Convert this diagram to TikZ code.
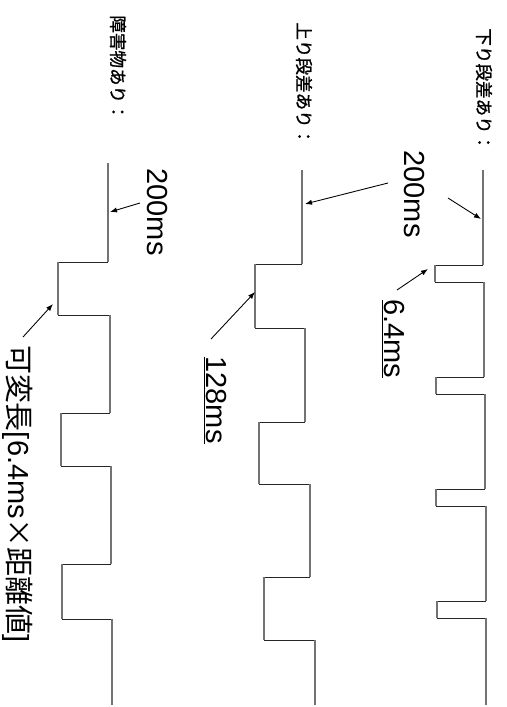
\documentclass[tikz,border=0pt]{standalone}
\usepackage{fontspec}
\setmainfont{Liberation Sans}
\newfontfamily\jpfont{Noto Sans CJK JP}
\newfontfamily\jpheavy[FakeBold=1.2]{Noto Sans CJK JP}
\usetikzlibrary{arrows.meta}

\begin{document}
\begin{tikzpicture}[x=0.02cm, y=-0.02cm,
    vseg/.style={draw=black!55, line width=1.1pt},
    hseg/.style={draw=black!85, line width=0.5pt},
    rowlabel/.style={rotate=-90, anchor=west, inner sep=0pt,
        font=\jpheavy\fontsize{10}{12}\selectfont},
    tag/.style={rotate=-90, inner sep=0pt, font=\fontsize{16.5}{18}\selectfont},
    ptr/.style={-{Latex[length=4pt, width=3pt]}, line width=0.5pt}
]
    \useasboundingbox (0,0) rectangle (507,707);

    % 下り段差あり
    \foreach \ya/\yb/\yc/\xh/\xl/\xn in {170/265/282/483/435/484, 282/377/394/484/436/485,
            394/489/506/485/436/486, 506/601/618/486/437/486} {
        \draw[vseg] (\xh,\ya) -- (\xh,\yb);
        \draw[hseg] (\xh,\yb) -- (\xl,\yb);
        \draw[vseg] (\xl,\yb) -- (\xl,\yc);
        \draw[hseg] (\xl,\yc) -- (\xn,\yc);
    }
    \draw[vseg] (486,618) -- (486,705);

    % 上り段差あり
    \foreach \ya/\yb/\yc/\xh/\xl/\xn in {170/264/328/302/255/305, 328/422/484/305/259/310,
            484/577/640/310/264/315} {
        \draw[vseg] (\xh,\ya) -- (\xh,\yb);
        \draw[hseg] (\xh,\yb) -- (\xl,\yb);
        \draw[vseg] (\xl,\yb) -- (\xl,\yc);
        \draw[hseg] (\xl,\yc) -- (\xn,\yc);
    }
    \draw[vseg] (315,640) -- (315,705);

    % 障害物あり
    \foreach \ya/\yb/\yc/\xh/\xl/\xn in {163/262/315/108/58/110, 315/413/466/110/61/111,
            466/564/619/111/62/112} {
        \draw[vseg] (\xh,\ya) -- (\xh,\yb);
        \draw[hseg] (\xh,\yb) -- (\xl,\yb);
        \draw[vseg] (\xl,\yb) -- (\xl,\yc);
        \draw[hseg] (\xl,\yc) -- (\xn,\yc);
    }
    \draw[vseg] (112,619) -- (112,705);

    \node[rowlabel] (rowA) at (484,28) {下り段差あり：};
    \node[rowlabel] (rowB) at (304,22) {上り段差あり：};
    \node[rowlabel] (rowC) at (118,15) {障害物あり：};

    \node[tag] (tA) at (414,194) {200ms};
    \node[tag] (tB) at (157,212) {200ms};
    \node[tag] (tP) at (393,339) {\underline{6.4ms}};
    \node[tag] (tQ) at (215,400) {\underline{128ms}};
    \node[tag] (tV) at (18,494) {{\jpfont 可変長}[6.4ms{\jpfont ×距離値}]};

    % arrow ends
    \coordinate (hiA) at (481,219);
    \coordinate (loA) at (428,269);
    \coordinate (hiB) at (305,204);
    \coordinate (loB) at (255,292);
    \coordinate (hiC) at (110,212);
    \coordinate (loC) at (53,304);
    \coordinate (fromA) at (448,198);
    \coordinate (fromB) at (388,183);
    \coordinate (fromC) at (140,203);
    \coordinate (fromP) at (397,290);
    \coordinate (fromQ) at (211,339);
    \coordinate (fromV) at (23,337);

    \draw[ptr] (fromA) -- (hiA);
    \draw[ptr] (fromB) -- (hiB);
    \draw[ptr] (fromC) -- (hiC);
    \draw[ptr] (fromP) -- (loA);
    \draw[ptr] (fromQ) -- (loB);
    \draw[ptr] (fromV) -- (loC);
\end{tikzpicture}
\end{document}
